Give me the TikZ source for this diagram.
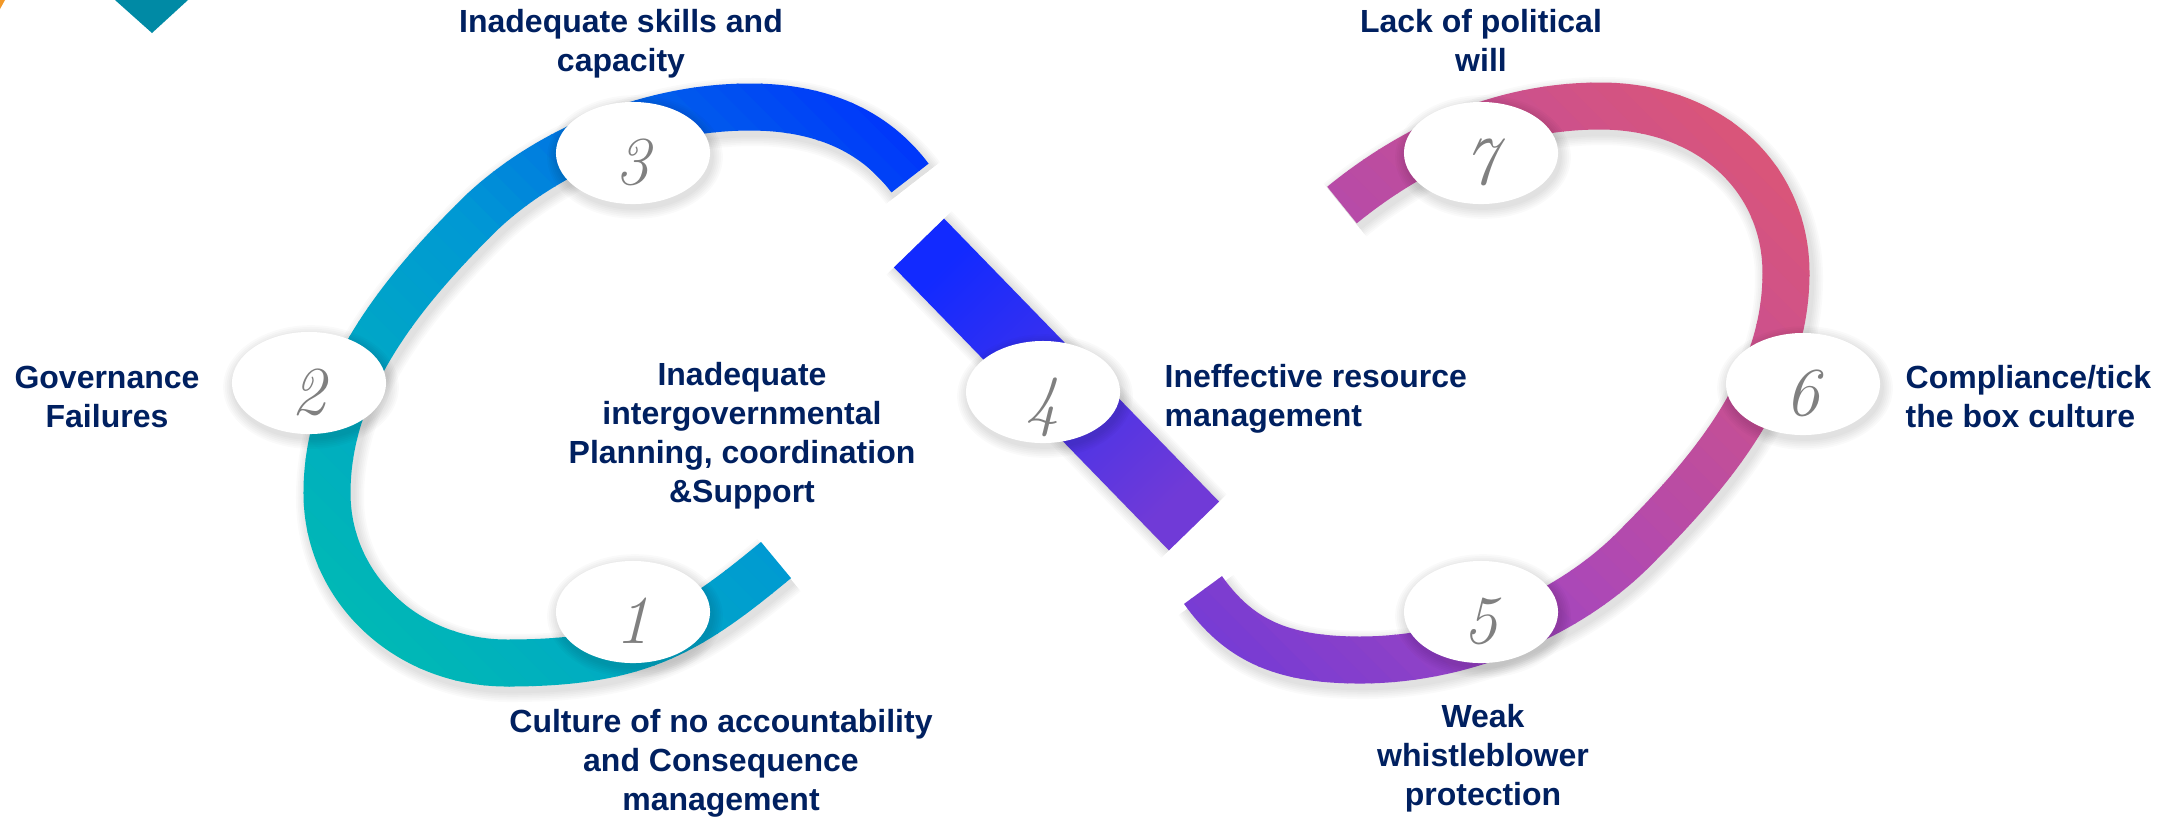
\documentclass[tikz,border=0pt]{standalone}
\usepackage{fontspec}
\newfontfamily\labelsans{Liberation Sans}
\usetikzlibrary{shapes.geometric}
\definecolor{navy}{RGB}{0,32,96}
\definecolor{numgray}{RGB}{128,128,128}
\definecolor{cornerteal}{RGB}{0,138,165}
\definecolor{cornerorange}{RGB}{242,152,40}
\definecolor{tealA}{RGB}{0,188,178}
\definecolor{tealB}{RGB}{0,152,212}
\definecolor{blueC}{RGB}{0,45,255}
\definecolor{purpA}{RGB}{112,58,216}
\definecolor{purpB}{RGB}{172,72,182}
\definecolor{pinkC}{RGB}{222,86,116}
\definecolor{barblue}{RGB}{18,42,255}
\definecolor{barmid}{RGB}{104,56,221}
\definecolor{barpurple}{RGB}{112,58,215}
\tikzset{
numbox/.style={
  ellipse,
  fill=white,
  minimum width=1.54cm,
  minimum height=1.02cm,
  inner sep=0pt,
  text=numgray,
  font=\fontsize{19.5}{19.5}\selectfont\itshape,
  text height=18pt,
  text depth=0pt
  },
lbl/.style={
  text=navy,
  font=\labelsans\bfseries\fontsize{9.1}{11}\selectfont,
  align=center,
  inner sep=0pt
  }
}
% band stroked in stripes across x-y, colour #5 -> #6
\newcommand{\gradband}[7]{%
  \pgfmathsetmacro{\ds}{(#4-#3)/#7}
  \foreach \i in {1,...,#7}{
    \pgfmathsetmacro{\sa}{#3+(\i-1)*\ds}
    \pgfmathsetmacro{\sb}{#3+\i*\ds+1}
    \pgfmathsetmacro{\mix}{100*(\i-0.5)/#7}
    \colorlet{stripecol}{#6!\mix!#5}
    \begin{scope}
      \clip (\sa-300,-300) -- (\sa+1200,1200) -- (\sb+1200,1200) -- (\sb-300,-300) -- cycle;
      \draw[line width=#2, stripecol] #1;
    \end{scope}
  }
}
% soft shadow under a band
\newcommand{\bandshadow}[2]{%
  \foreach \k in {1,...,6}{
    \pgfmathsetmacro{\lw}{#2+0.035*\k}
    \draw[line width=\lw cm, black, opacity=0.02, shift={(3,5)}] #1;
  }
}
\begin{document}
\begin{tikzpicture}[x=0.01cm, y=-0.01cm]
\useasboundingbox (0,0) rectangle (2172,817);
\fill[white] (0,0) rectangle (2172,817);

\def\leftloop{(776,560) .. controls (687,634) and (637,663) .. (507,663)
  .. controls (407,663) and (327,588) .. (327,493)
  .. controls (327,383) and (401,293) .. (476,218)
  .. controls (536,158) and (640,107) .. (750,107)
  .. controls (820,107) and (874,130) .. (910,178)}
\def\rightloop{(1342,205) .. controls (1412,148) and (1500,106) .. (1600,106)
  .. controls (1710,106) and (1786,178) .. (1786,273)
  .. controls (1786,383) and (1713,470) .. (1633,550)
  .. controls (1573,610) and (1470,660) .. (1360,660)
  .. controls (1280,660) and (1238,639) .. (1203,590)}

% corner marks
\fill[cornerteal] (115,0) -- (152,33) -- (188,0) -- cycle;
\fill[cornerorange] (0,0) -- (5,0) -- (0,9) -- cycle;

% shadows
\coordinate (bartop) at (919,243);
\coordinate (barend) at (1194,526);
\bandshadow{\leftloop}{0.47}
\bandshadow{\rightloop}{0.47}
\bandshadow{(bartop) -- (barend)}{0.70}

% bands
\gradband{\leftloop}{0.47cm}{-320}{250}{tealA}{tealB}{24}
\gradband{\leftloop}{0.47cm}{250}{820}{tealB}{blueC}{24}
\gradband{\rightloop}{0.47cm}{520}{1000}{purpA}{purpB}{20}
\gradband{\rightloop}{0.47cm}{1000}{1660}{purpB}{pinkC}{26}
\shade[top color=barblue, middle color=barmid, bottom color=barpurple, shading angle=44.2]
  (944.1,218.6) -- (1219.1,501.6) -- (1168.9,550.4) -- (893.9,267.4) -- cycle;

% numbered ellipses
\foreach \n/\x/\y in {1/633/612,2/309/383,3/633/153,4/1043/392,5/1481/612,6/1803/384,7/1481/153}{
  \foreach \k in {1,...,6}{
    \pgfmathsetmacro{\rx}{0.77+0.018*\k}
    \pgfmathsetmacro{\ry}{0.51+0.018*\k}
    \fill[black, opacity=0.018] (\x+2,\y+4) ellipse [x radius=\rx cm, y radius=\ry cm];
  }
  \node[numbox] (num\n) at (\x,\y) {\n};
}

% labels (anchored at the last line)
\node[lbl, anchor=base] (lblskills) at (621,71) {Inadequate skills and\\capacity};
\node[lbl, anchor=base] (lblwill) at (1481,71) {Lack of political\\will};
\node[lbl, anchor=base] (lblgov) at (107,427) {Governance\\Failures};
\node[lbl, anchor=base] (lblplan) at (742,502) {Inadequate\\intergovernmental\\Planning, coordination\\\&Support};
\node[lbl, anchor=base west, align=left] (lblres) at (1164,426) {Ineffective resource\\management};
\node[lbl, anchor=base west, align=left] (lbltick) at (1905,427) {Compliance/tick\\the box culture};
\node[lbl, anchor=base] (lblcult) at (721,810) {Culture of no accountability\\and Consequence\\management};
\node[lbl, anchor=base] (lblweak) at (1483,805) {Weak\\whistleblower\\protection};
\end{tikzpicture}
\end{document}
